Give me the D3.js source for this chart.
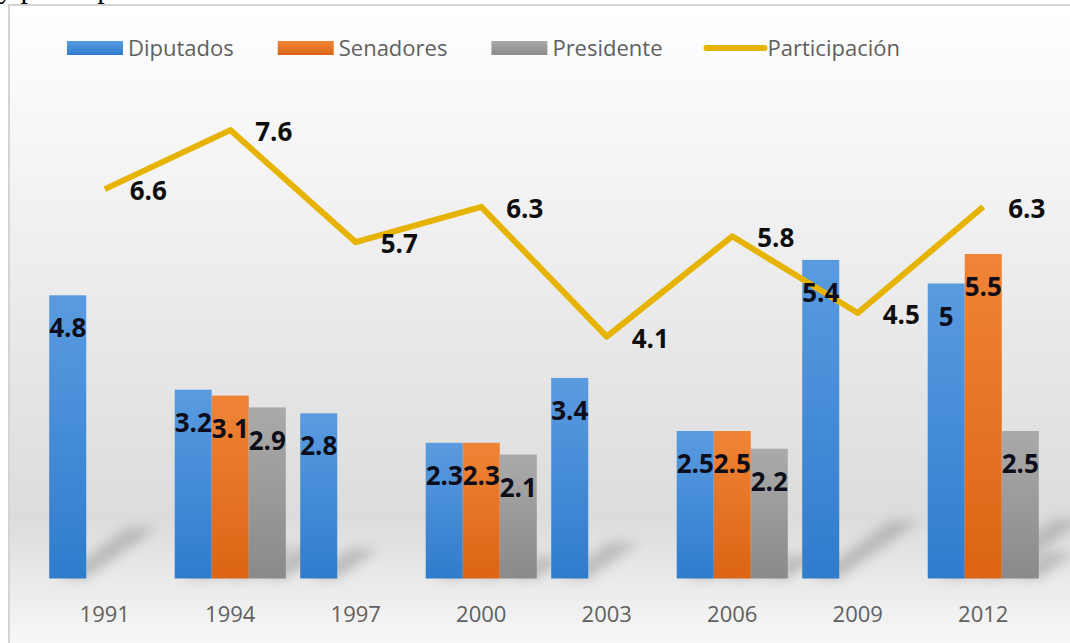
<!DOCTYPE html>
<html>
<head>
<meta charset="utf-8">
<script src="https://cdn.jsdelivr.net/npm/d3@7"></script>
<style>
  body { margin: 0; background: #fff; }
  svg { display: block; }
</style>
</head>
<body>
<div id="chart"></div>
<script>
var w = 1070;
var h = 643;

// data
var years = ["1991", "1994", "1997", "2000", "2003", "2006", "2009", "2012"];
var seriesNames = ["Diputados", "Senadores", "Presidente"];
var diputados = [4.8, 3.2, 2.8, 2.3, 3.4, 2.5, 5.4, 5];
var senadores = [null, 3.1, null, 2.3, null, 2.5, null, 5.5];
var presidente = [null, 2.9, null, 2.1, null, 2.2, null, 2.5];
var participacion = [6.6, 7.6, 5.7, 6.3, 4.1, 5.8, 4.5, 6.3];
var lineName = "Participación";

var barColors = [["#5a9be0", "#2f7ccd"], ["#f08436", "#dc6414"], ["#aaaaaa", "#8a8a8a"]];
var lineColor = "#e6b300";

var svg = d3.select("#chart")
  .append("svg")
  .attr("width", w)
  .attr("height", h);

var defs = svg.append("defs");

// chart background gradient
var bg = defs.append("linearGradient")
  .attr("id", "bg")
  .attr("x1", 0).attr("y1", 0).attr("x2", 0).attr("y2", 1);
[[0, "#ffffff"], [0.25, "#f4f4f4"], [0.55, "#e6e6e6"], [0.78, "#dcdcdc"], [0.9, "#eeeeee"], [1, "#fcfcfc"]]
  .forEach(function(s) { bg.append("stop").attr("offset", s[0]).attr("stop-color", s[1]); });

barColors.forEach(function(c, i) {
  var g = defs.append("linearGradient")
    .attr("id", "bar" + i)
    .attr("x1", 0).attr("y1", 0).attr("x2", 0).attr("y2", 1);
  g.append("stop").attr("offset", 0).attr("stop-color", c[0]);
  g.append("stop").attr("offset", 1).attr("stop-color", c[1]);
});

defs.append("filter")
  .attr("id", "blur")
  .attr("x", "-50%").attr("y", "-50%").attr("width", "200%").attr("height", "200%")
  .append("feGaussianBlur")
  .attr("stdDeviation", 6);

// cut-off text line from the page above the chart
svg.append("text")
  .attr("x", -2)
  .attr("y", -2)
  .style("font-family", "'Liberation Serif', serif")
  .style("font-size", "30px")
  .style("fill", "#000")
  .text("y participación");

// chart frame
svg.append("rect")
  .attr("x", 9)
  .attr("y", 5)
  .attr("width", 1080)
  .attr("height", 660)
  .style("fill", "url(#bg)")
  .style("stroke", "#d4d4d4")
  .style("stroke-width", 2);

// scales
var x0 = d3.scaleBand()
  .domain(years)
  .range([42, 1046])
  .paddingInner(0.115)
  .paddingOuter(0.0575);

var x1 = d3.scaleBand()
  .domain(seriesNames)
  .range([0, x0.bandwidth()]);

var y = d3.scaleLinear()
  .domain([0, 8])
  .range([578.5, 106.5]);

var values = [diputados, senadores, presidente];
var bars = [];
years.forEach(function(yr, i) {
  seriesNames.forEach(function(s, k) {
    if (values[k][i] != null) bars.push({ year: yr, series: s, k: k, value: values[k][i] });
  });
});

// soft perspective shadows behind the bars
svg.append("g")
  .attr("filter", "url(#blur)")
  .style("opacity", 0.35)
  .selectAll("path")
  .data(bars)
  .enter()
  .append("path")
  .attr("d", function(d) {
    var xa = x0(d.year) + x1(d.series);
    var xb = xa + x1.bandwidth();
    var base = y(0);
    var bh = y(0) - y(d.value);
    var dx = bh * 0.25, dy = bh * 0.18;
    return "M" + (xa + 8) + "," + base + "L" + xb + "," + base +
      "L" + (xb + dx) + "," + (base - dy) + "L" + (xa + 8 + dx) + "," + (base - dy) + "Z";
  })
  .style("fill", "#6e6e6e");

// bars
svg.append("g")
  .selectAll("rect")
  .data(bars)
  .enter()
  .append("rect")
  .attr("x", function(d) { return x0(d.year) + x1(d.series); })
  .attr("y", function(d) { return y(d.value); })
  .attr("width", x1.bandwidth())
  .attr("height", function(d) { return y(0) - y(d.value); })
  .style("fill", function(d) { return "url(#bar" + d.k + ")"; });

// line
var line = d3.line()
  .x(function(d, i) { return x0(years[i]) + x0.bandwidth() / 2; })
  .y(function(d) { return y(d); });

svg.append("path")
  .datum(participacion)
  .attr("d", line)
  .style("fill", "none")
  .style("stroke", lineColor)
  .style("stroke-width", 6)
  .style("stroke-linejoin", "round");

// bar labels (inside end)
svg.append("g")
  .selectAll("text")
  .data(bars)
  .enter()
  .append("text")
  .attr("x", function(d) { return x0(d.year) + x1(d.series) + x1.bandwidth() / 2; })
  .attr("y", function(d) { return y(d.value) + 33; })
  .attr("dy", "0.35em")
  .style("text-anchor", "middle")
  .style("font-family", "'Open Sans', sans-serif")
  .style("font-weight", "bold")
  .style("font-size", "26px")
  .style("fill", "#0e0e1a")
  .text(function(d) { return d.value; });

// line labels (right)
svg.append("g")
  .selectAll("text")
  .data(participacion)
  .enter()
  .append("text")
  .attr("x", function(d, i) { return x0(years[i]) + x0.bandwidth() / 2 + 25; })
  .attr("y", function(d) { return y(d) + 2; })
  .attr("dy", "0.35em")
  .style("font-family", "'Open Sans', sans-serif")
  .style("font-weight", "bold")
  .style("font-size", "26px")
  .style("fill", "#0e0e0e")
  .text(function(d) { return d; });

// category axis
var xAxis = svg.append("g")
  .attr("transform", "translate(0,600)")
  .call(d3.axisBottom(x0).tickSize(0).tickPadding(0));
xAxis.select(".domain").remove();
xAxis.selectAll("text")
  .attr("dy", "0.35em")
  .attr("y", 14)
  .style("font-family", "'Open Sans', sans-serif")
  .style("font-size", "22px")
  .style("fill", "#606060");

// legend
var legend = svg.append("g").attr("transform", "translate(67,48)");
var lx = 0;
var legendItems = seriesNames.concat([lineName]);
legendItems.forEach(function(name, i) {
  var g = legend.append("g").attr("transform", "translate(" + lx + ",0)");
  if (i < 3) {
    g.append("rect")
      .attr("x", 0).attr("y", -7)
      .attr("width", 56).attr("height", 14)
      .style("fill", "url(#bar" + i + ")");
  } else {
    g.append("line")
      .attr("x1", 0).attr("x2", 58)
      .attr("y1", 0).attr("y2", 0)
      .style("stroke", lineColor)
      .style("stroke-width", 6)
      .style("stroke-linecap", "round");
  }
  var t = g.append("text")
    .attr("x", 61)
    .attr("y", 0)
    .attr("dy", "0.35em")
    .style("font-family", "'Open Sans', sans-serif")
    .style("font-size", "22px")
    .style("fill", "#606060")
    .text(name);
  lx += 61 + t.node().getComputedTextLength() + 44;
});
</script>
</body>
</html>
